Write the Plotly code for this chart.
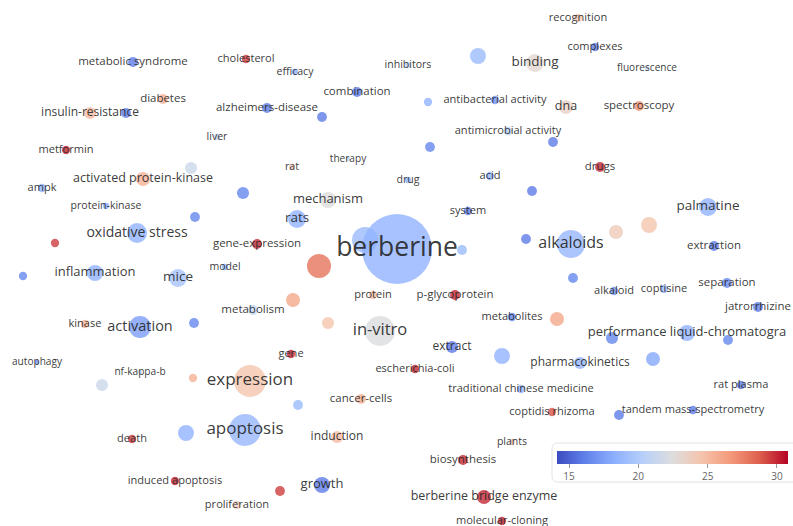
import numpy as np
import plotly.graph_objects as go

# ---- data (VOSviewer-style keyword map) ----
keywords = [
    "berberine", "alkaloids", "expression", "apoptosis", "in-vitro", "activation",
    "oxidative stress", "inflammation", "mice", "rats", "mechanism", "binding",
    "palmatine", "dna", "performance liquid-chromatogra", "pharmacokinetics",
    "activated protein-kinase", "metabolic syndrome", "insulin-resistance", "cholesterol",
    "efficacy", "inhibitors", "combination", "diabetes", "alzheimers-disease",
    "antibacterial activity", "antimicrobial activity", "spectroscopy", "recognition",
    "complexes", "fluorescence", "liver", "metformin", "therapy", "rat", "drugs", "drug",
    "acid", "ampk", "protein-kinase", "system", "gene-expression", "extraction", "model",
    "separation", "alkaloid", "coptisine", "protein", "p-glycoprotein", "metabolism",
    "jatrorrhizine", "metabolites", "kinase", "autophagy", "gene", "extract", "nf-kappa-b",
    "escherichia-coli", "traditional chinese medicine", "rat plasma", "cancer-cells",
    "coptidis rhizoma", "tandem mass-spectrometry", "induction", "death", "plants",
    "biosynthesis", "induced apoptosis", "growth", "berberine bridge enzyme",
    "proliferation", "molecular-cloning",
    "", "", "", "", "", "", "", "", "", "", "", "", "", "", "", "", "", "", "", "",
    "", "", "", "", "", "", "", "", "", "", "", "", "",
]
map_x = [
    397, 571, 250, 245, 380, 140, 137, 95, 178, 297, 328, 535, 708, 566, 687, 580,
    143, 133, 90, 246, 295, 408, 357, 163, 267, 495, 508, 639, 578, 595, 647, 217,
    66, 348, 292, 600, 408, 490, 42, 106, 468, 257, 714, 225, 727, 614, 664, 373,
    455, 253, 758, 512, 85, 37, 291, 452, 140, 415, 521, 741, 361, 552, 693, 337,
    132, 512, 463, 175, 322, 484, 237, 502,
    478, 126, 322, 428, 553, 430, 191, 243, 532, 195, 649, 616, 55, 365, 462, 526,
    319, 23, 573, 293, 194, 328, 557, 612, 728, 102, 193, 502, 653, 298, 619, 186, 280,
]
map_y = [
    249, 244, 381, 430, 331, 327, 233, 273, 278, 219, 200, 63, 207, 107, 333, 363,
    179, 62, 113, 59, 72, 65, 92, 99, 108, 100, 131, 106, 18, 47, 68, 137,
    150, 159, 167, 167, 180, 176, 188, 206, 211, 244, 246, 267, 283, 291, 289, 295,
    295, 310, 307, 317, 324, 362, 354, 347, 372, 369, 389, 385, 399, 412, 410, 437,
    439, 442, 460, 481, 485, 497, 505, 521,
    56, 113, 117, 102, 142, 147, 168, 193, 191, 217, 225, 232, 243, 240, 250, 239,
    266, 276, 278, 300, 323, 323, 319, 338, 340, 385, 378, 356, 359, 405, 415, 433, 491,
]
occurrences = [
    500, 80, 104, 104, 92, 49, 41, 26, 33, 33, 26, 33, 33, 20, 26, 15,
    20, 10, 15, 7, 4, 4, 10, 10, 10, 7, 7, 10, 7, 7, 2, 4,
    7, 2, 4, 10, 4, 7, 7, 4, 7, 10, 10, 4, 10, 7, 7, 7,
    10, 10, 10, 7, 7, 2, 7, 15, 2, 7, 7, 7, 10, 7, 7, 15,
    7, 4, 10, 7, 26, 20, 7, 7,
    26, 10, 10, 7, 10, 10, 15, 15, 10, 10, 26, 20, 7, 69, 10, 10,
    59, 7, 10, 20, 10, 15, 20, 15, 10, 15, 7, 26, 20, 10, 10, 26, 10,
]
avg_citations = [
    18.5, 18.8, 24.5, 18.8, 22.3, 17.5, 18.5, 18.5, 19.5, 18.5, 22.5, 23.0, 18.5, 23.5, 18.5, 18.5,
    25.5, 16.0, 25.0, 29.5, 18.5, 20.5, 16.0, 25.5, 16.0, 17.0, 20.5, 27.0, 24.5, 16.0, 21.0, 21.0,
    30.0, 21.0, 24.0, 30.0, 18.5, 18.5, 18.5, 18.0, 16.0, 30.0, 16.0, 18.5, 16.5, 17.0, 19.0, 25.0,
    30.0, 21.0, 16.0, 16.5, 25.5, 17.0, 30.0, 16.0, 21.0, 30.0, 18.5, 16.0, 25.5, 29.0, 16.0, 25.0,
    29.5, 24.0, 30.0, 30.0, 16.0, 30.0, 24.0, 30.0,
    19.0, 16.0, 16.0, 18.5, 16.0, 16.5, 21.5, 16.5, 16.0, 16.5, 24.5, 24.0, 29.5, 19.0, 19.0, 16.0,
    28.0, 16.5, 16.5, 26.0, 16.5, 24.5, 26.0, 16.5, 16.5, 21.5, 25.5, 18.5, 18.0, 19.0, 16.0, 18.5, 29.5,
]
colorbar_ticks = [15, 20, 25, 30]

# ---- scales ----
occ = np.array(occurrences, dtype=float)
rel = np.sqrt(occ / occ.max())
diam = 70 * rel
font_sizes = 9 + 17.5 * rel

order = np.argsort(occ, kind="stable")  # larger nodes drawn on top

coolwarm = [
    [0.0, "rgb(59,76,192)"], [0.125, "rgb(98,130,234)"], [0.25, "rgb(141,176,254)"],
    [0.375, "rgb(184,208,249)"], [0.5, "rgb(221,221,221)"], [0.625, "rgb(245,196,173)"],
    [0.75, "rgb(244,154,123)"], [0.875, "rgb(222,96,77)"], [1.0, "rgb(180,4,38)"],
]

W, H = 793, 526
fig = go.Figure()
fig.add_trace(go.Scatter(
    x=np.array(map_x)[order], y=np.array(map_y)[order],
    mode="markers+text",
    text=np.array(keywords, dtype=object)[order],
    textposition="middle center",
    textfont=dict(family="Open Sans", size=font_sizes[order], color="rgba(35,35,35,0.9)"),
    marker=dict(
        size=diam[order], color=np.array(avg_citations)[order],
        colorscale=coolwarm, cmin=14.13, cmax=30.8, opacity=0.8,
        line=dict(width=0),
        colorbar=dict(
            orientation="h", x=672.5 / W, xanchor="center", y=1 - 451 / H, yanchor="top",
            len=231 / W, lenmode="fraction", thickness=13, thicknessmode="pixels",
            xpad=0, ypad=0, outlinewidth=0, ticks="outside", ticklen=4, tickcolor="#999",
            tickvals=colorbar_ticks, tickfont=dict(family="Open Sans", size=10, color="#666"),
        ),
    ),
    hoverinfo="text", cliponaxis=False, showlegend=False,
))

fig.add_shape(
    type="path", xref="x", yref="y", layer="below",
    path="M 558,443 H 800 V 482 H 558 Q 552,482 552,476 V 449 Q 552,443 558,443 Z",
    fillcolor="white", line=dict(color="#e2e2e2", width=1),
)

fig.update_layout(
    width=W, height=H, margin=dict(l=0, r=0, t=0, b=0),
    paper_bgcolor="white", plot_bgcolor="white",
    xaxis=dict(range=[0, W], visible=False, fixedrange=True),
    yaxis=dict(range=[H, 0], visible=False, fixedrange=True),
)
fig.write_html(
    "out.html",
    config={"displayModeBar": False},
    post_script="document.body.style.margin='0';document.body.style.overflow='hidden';",
)
